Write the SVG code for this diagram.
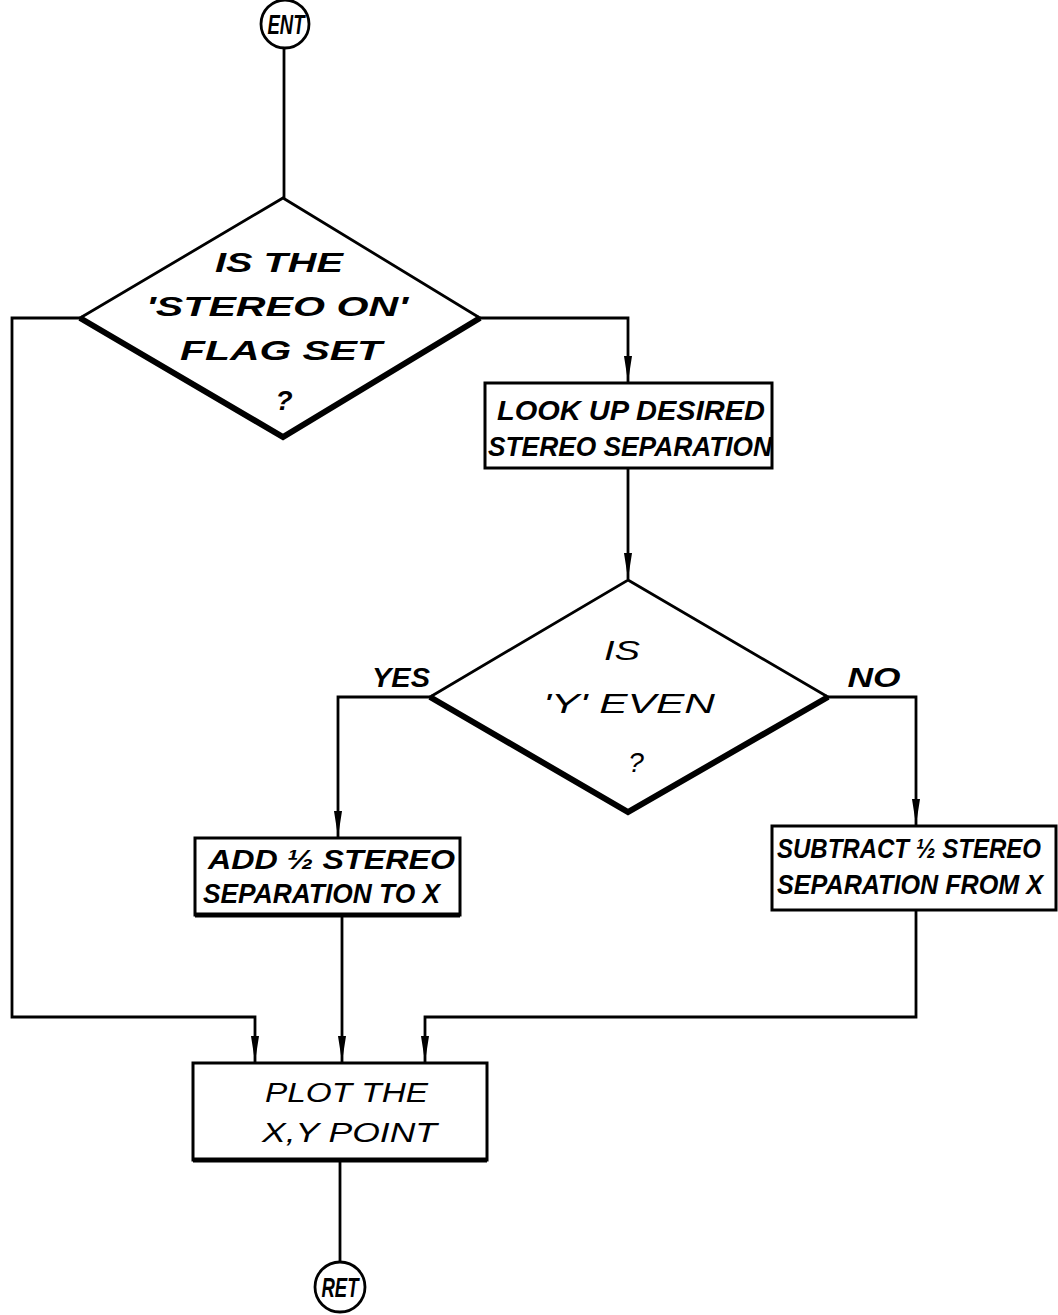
<svg xmlns="http://www.w3.org/2000/svg" width="1058" height="1315" viewBox="0 0 1058 1315">
<style>
  .ln{fill:none;stroke:#000;stroke-width:2.8;stroke-linejoin:miter}
  .box{fill:#fff;stroke:#000;stroke-width:3}
  .thick{fill:none;stroke:#000;stroke-width:6;stroke-linejoin:miter}
  .dia{fill:#fff;stroke:#000;stroke-width:2.8;stroke-linejoin:miter}
  text{font-family:"Liberation Sans","DejaVu Sans",sans-serif;font-style:italic;font-size:28px;font-weight:bold;fill:#000}
  .n{font-weight:normal}
  .m{text-anchor:middle}
</style>
<defs>
  <marker id="arr" viewBox="0 0 26 10" refX="26" refY="5" markerWidth="26" markerHeight="10" markerUnits="userSpaceOnUse" orient="auto">
    <path d="M0,1 L26,5 L0,9 z" fill="#000"/>
  </marker>
</defs>
<rect width="1058" height="1315" fill="#fff"/>
<g id="connectors">
  <line class="ln" x1="284" y1="48" x2="284" y2="198"/>
  <polyline class="ln" points="80,318 12,318 12,1017 255,1017 255,1062" marker-end="url(#arr)"/>
  <polyline class="ln" points="480,318 628,318 628,382" marker-end="url(#arr)"/>
  <line class="ln" x1="628" y1="468" x2="628" y2="579" marker-end="url(#arr)"/>
  <polyline class="ln" points="430,697 338,697 338,837" marker-end="url(#arr)"/>
  <polyline class="ln" points="828,697 916,697 916,825" marker-end="url(#arr)"/>
  <line class="ln" x1="342" y1="915" x2="342" y2="1062" marker-end="url(#arr)"/>
  <polyline class="ln" points="916,910 916,1017 425,1017 425,1062" marker-end="url(#arr)"/>
  <line class="ln" x1="340" y1="1160" x2="340" y2="1262"/>
  <text x="401" y="687" class="m" textLength="58" lengthAdjust="spacingAndGlyphs">YES</text>
  <text x="874" y="687" class="m" textLength="53" lengthAdjust="spacingAndGlyphs">NO</text>
</g>
<g id="ent">
  <circle cx="285" cy="24" r="24" fill="#fff" stroke="#000" stroke-width="2.8"/>
  <text x="286" y="34" class="m" font-size="25" textLength="37" lengthAdjust="spacingAndGlyphs">ENT</text>
</g>
<g id="decision-stereo">
  <polygon class="dia" points="283,198 480,318 283,437 80,318"/>
  <polyline class="thick" points="80,318 283,437 480,318"/>
  <text x="279" y="272" class="m" textLength="128" lengthAdjust="spacingAndGlyphs">IS THE</text>
  <text x="277" y="316" class="m" textLength="262" lengthAdjust="spacingAndGlyphs">'STEREO  ON'</text>
  <text x="281" y="360" class="m" textLength="202" lengthAdjust="spacingAndGlyphs">FLAG SET</text>
  <text x="284" y="410" class="m" font-size="34">?</text>
</g>
<g id="lookup">
  <rect class="box" x="485" y="383" width="287" height="85" stroke-width="3.5"/>
  <text x="497" y="420" textLength="268" lengthAdjust="spacingAndGlyphs">LOOK UP DESIRED</text>
  <text x="488" y="456" textLength="284" lengthAdjust="spacingAndGlyphs">STEREO SEPARATION</text>
</g>
<g id="decision-even">
  <polygon class="dia" points="628,580 828,697 628,812 430,697"/>
  <polyline class="thick" points="430,697 628,812 828,697"/>
  <text x="622" y="660" class="m n" textLength="36" lengthAdjust="spacingAndGlyphs">IS</text>
  <text x="629" y="713" class="m n" textLength="172" lengthAdjust="spacingAndGlyphs">'Y' EVEN</text>
  <text x="636" y="772" class="m n" font-size="34">?</text>
</g>
<g id="add">
  <rect class="box" x="195" y="838" width="265" height="77"/>
  <line x1="195" y1="915" x2="460" y2="915" stroke="#000" stroke-width="5"/>
  <text x="208" y="869" textLength="247" lengthAdjust="spacingAndGlyphs">ADD ½ STEREO</text>
  <text x="203" y="903" textLength="237" lengthAdjust="spacingAndGlyphs">SEPARATION TO X</text>
</g>
<g id="subtract">
  <rect class="box" x="772" y="826" width="284" height="84"/>
  <text x="777" y="858" font-size="25" textLength="264" lengthAdjust="spacingAndGlyphs">SUBTRACT ½ STEREO</text>
  <text x="777" y="894" font-size="25" textLength="266" lengthAdjust="spacingAndGlyphs">SEPARATION FROM X</text>
</g>
<g id="plot">
  <rect class="box" x="193" y="1063" width="294" height="97"/>
  <line x1="193" y1="1160" x2="487" y2="1160" stroke="#000" stroke-width="5"/>
  <text x="265" y="1102" class="n" textLength="163" lengthAdjust="spacingAndGlyphs">PLOT THE</text>
  <text x="262" y="1142" class="n" textLength="175" lengthAdjust="spacingAndGlyphs">X,Y POINT</text>
</g>
<g id="ret">
  <circle cx="340" cy="1287" r="25" fill="#fff" stroke="#000" stroke-width="2.8"/>
  <text x="340" y="1297" class="m" font-size="25" textLength="37" lengthAdjust="spacingAndGlyphs">RET</text>
</g>
</svg>
